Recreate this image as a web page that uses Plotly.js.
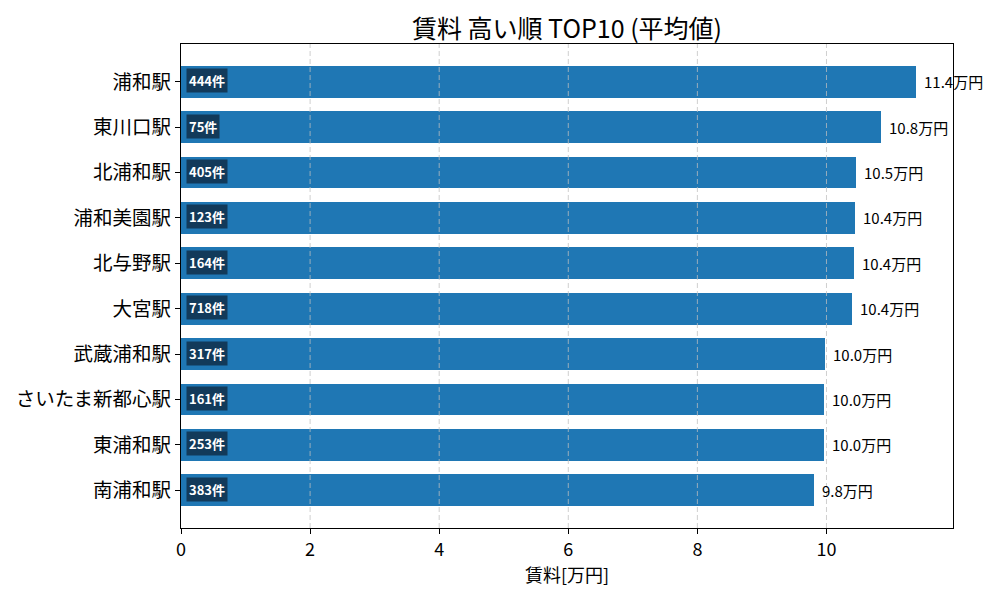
<!DOCTYPE html>
<html>
<head>
<meta charset="utf-8">
<script src="https://cdn.plot.ly/plotly-3.0.1.min.js"></script>
<style>
  html, body { margin: 0; padding: 0; background: #fff; }
  #plot { width: 1000px; height: 600px; }
</style>
</head>
<body>
<div id="plot"></div>
<script>
// top 10 stations by average rent (万円), highest first
const stations = ['浦和駅', '東川口駅', '北浦和駅', '浦和美園駅', '北与野駅',
                  '大宮駅', '武蔵浦和駅', 'さいたま新都心駅', '東浦和駅', '南浦和駅'];
const rents = [11.39, 10.84, 10.46, 10.44, 10.42, 10.40, 9.98, 9.96, 9.96, 9.81];
const counts = [444, 75, 405, 123, 164, 718, 317, 161, 253, 383];
const xTicks = [0, 2, 4, 6, 8, 10];

const font = '"Noto Sans CJK JP", "Noto Sans", sans-serif';

const barTrace = {
    type: 'bar',
    orientation: 'h',
    x: rents,
    y: stations,
    width: 0.7,
    marker: { color: '#1f77b4' },
    hoverinfo: 'x+y'
};

// value label to the right of each bar
const valueLabels = stations.map((s, i) => ({
    x: rents[i],
    y: s,
    xref: 'x',
    yref: 'y',
    text: rents[i].toFixed(1) + '万円',
    showarrow: false,
    xanchor: 'left',
    xshift: 6,
    font: { family: font, size: 15, color: '#000' }
}));

// listing count badge inside each bar
const countLabels = stations.map((s, i) => ({
    x: 0,
    y: s,
    xref: 'x',
    yref: 'y',
    text: '<b>' + counts[i] + '件</b>',
    showarrow: false,
    xanchor: 'left',
    xshift: 5,
    yshift: 1,
    bgcolor: '#123a5a',
    borderpad: 2,
    font: { family: font, size: 13, color: '#fff' }
}));

// dashed grid drawn above the bars (like matplotlib's grid over bars)
const gridLines = xTicks.filter(v => v > 0).map(v => ({
    type: 'line',
    xref: 'x',
    yref: 'paper',
    x0: v, x1: v,
    y0: 0, y1: 1,
    layer: 'above',
    opacity: 0.75,
    line: { color: '#c0c0c0', width: 1, dash: '5px,3px' }
}));

const layout = {
    width: 1000,
    height: 600,
    margin: { l: 181, r: 47, t: 44, b: 72, pad: 0 },
    title: {
        text: '賃料 高い順 TOP10 (平均値)',
        font: { family: font, size: 25, color: '#000' },
        x: 0.5,
        xref: 'paper',
        y: 1,
        yref: 'paper',
        yanchor: 'bottom',
        pad: { b: 6 }
    },
    xaxis: {
        title: { text: '賃料[万円]', font: { family: font, size: 18, color: '#000' }, standoff: 6 },
        range: [0, 11.96],
        tickvals: xTicks,
        ticktext: xTicks.map(String),
        ticks: 'outside',
        ticklen: 5,
        tickcolor: '#000',
        tickfont: { family: font, size: 18, color: '#000' },
        showgrid: false,
        showline: true,
        linecolor: '#000',
        linewidth: 1,
        mirror: true,
        zeroline: false
    },
    yaxis: {
        type: 'category',
        range: [9.835, -0.835],
        ticks: 'outside',
        ticklen: 5,
        tickcolor: '#000',
        tickfont: { family: font, size: 19.5, color: '#000' },
        showgrid: false,
        showline: true,
        linecolor: '#000',
        linewidth: 1,
        mirror: true,
        zeroline: false
    },
    shapes: gridLines,
    annotations: valueLabels.concat(countLabels),
    plot_bgcolor: '#fff',
    paper_bgcolor: '#fff',
    showlegend: false,
    bargap: 0
};

const config = { displayModeBar: false, staticPlot: true };

Plotly.newPlot('plot', [barTrace], layout, config);
</script>
</body>
</html>
